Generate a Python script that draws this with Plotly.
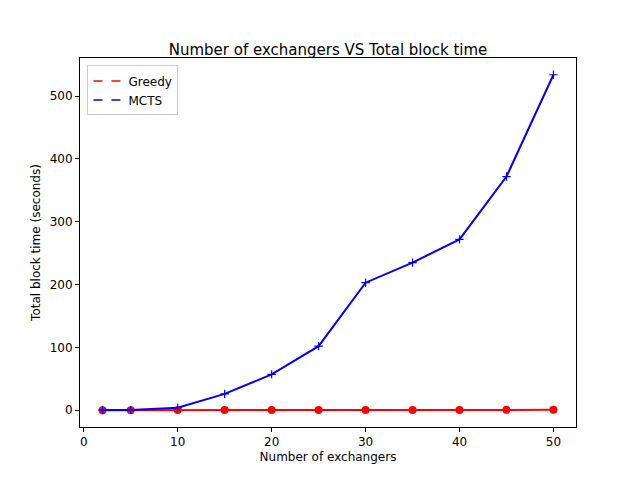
import plotly.graph_objects as go

x = [2, 5, 10, 15, 20, 25, 30, 35, 40, 45, 50]
greedy = [0.1, 0.1, 0.2, 0.3, 0.3, 0.4, 0.4, 0.5, 0.5, 0.6, 0.6]
mcts = [0.2, 0.5, 4, 26, 57, 102, 203, 235, 272, 372, 534]

fig = go.Figure()
fig.add_trace(go.Scatter(x=x, y=greedy, mode="lines+markers", line=dict(color="red", width=2),
                         marker=dict(symbol="circle", size=8, color="red"), showlegend=False))
fig.add_trace(go.Scatter(x=x, y=mcts, mode="lines+markers", line=dict(color="blue", width=2),
                         marker=dict(symbol="cross-thin", size=6, line=dict(color="blue", width=1.2)), showlegend=False))
fig.add_trace(go.Scatter(x=[None], y=[None], mode="lines", name="Greedy", line=dict(color="red", dash="dash", width=1.5)))
fig.add_trace(go.Scatter(x=[None], y=[None], mode="lines", name="MCTS", line=dict(color="blue", dash="dash", width=1.5)))

axis = dict(showgrid=False, zeroline=False, showline=True, mirror=True, linecolor="black",
            ticks="outside", ticklen=4, tickcolor="black", tickfont=dict(size=12, color="black"))
fig.update_layout(
    width=640, height=480, plot_bgcolor="white", paper_bgcolor="white",
    font=dict(family="DejaVu Sans", color="black"),
    margin=dict(l=72, r=72, t=50, b=61),
    title=dict(text="Number of exchangers VS Total block time", x=0.5, xanchor="center", y=0.925, font=dict(size=15)),
    xaxis=dict(axis, range=[-0.4, 52.4], tickvals=[0, 10, 20, 30, 40, 50],
               title=dict(text="Number of exchangers", font=dict(size=12), standoff=4)),
    yaxis=dict(axis, range=[-26.7, 560.7], tickvals=[0, 100, 200, 300, 400, 500],
               title=dict(text="Total block time (seconds)", font=dict(size=12), standoff=6)),
    legend=dict(x=0.015, y=0.98, xanchor="left", yanchor="top", bordercolor="#cccccc", borderwidth=1,
                bgcolor="white", font=dict(size=12)),
)
fig.write_html("out.html")
